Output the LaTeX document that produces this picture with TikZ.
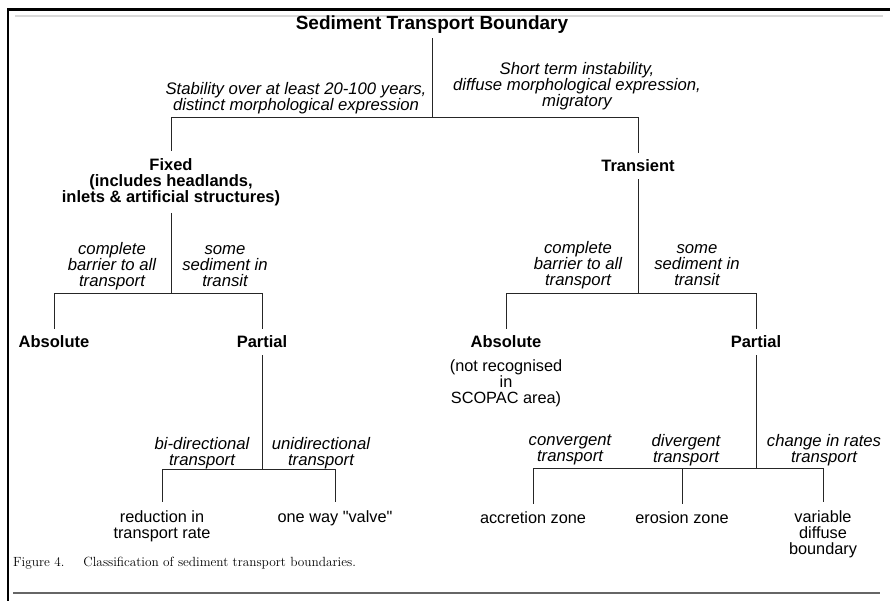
\documentclass[tikz,border=0pt]{standalone}
\usepackage{fontspec}
\newfontfamily\arial{Liberation Sans}
\usetikzlibrary{positioning}
\tikzset{
  titel/.style  = {font=\arial\bfseries\fontsize{19}{21}\selectfont, inner sep=4pt},
  head/.style   = {font=\arial\bfseries\fontsize{16.5}{16}\selectfont, align=center, inner xsep=2pt, inner ysep=7pt},
  cond/.style   = {font=\arial\itshape\fontsize{16.7}{16.2}\selectfont, align=center, inner sep=0},
  leaf/.style   = {font=\arial\fontsize{16.3}{16.2}\selectfont, align=center, inner xsep=2pt, inner ysep=8pt},
  branch/.style = {line width=0.8pt, black!85},
  rule/.style   = {line width=3pt}
}

\begin{document}
\begin{tikzpicture}[x=1pt, y=-1pt]
  \useasboundingbox (0,0) rectangle (890,601);
  % page rules
  \draw[rule] (7,10) -- (890,10);
  \draw[rule, line width=2.5pt] (8,10) -- (8,601);
  \draw[black!15, line width=1.5pt] (15,16) -- (883,16);
  \draw[black!60, line width=1.5pt] (13,593) -- (880,593);

  % top level
  \node[titel] (stb) at (432,25) {Sediment Transport Boundary};
  \node[cond] (cstab) at (296,98) {Stability over at least 20-100 years,\\distinct morphological expression};
  \node[cond] (cshort) at (577,86) {Short term instability,\\diffuse morphological expression,\\migratory};
  \node[head] (fix) at (171,182) {Fixed\\(includes headlands,\\inlets \& artificial structures)};
  \node[head] (trn) at (638,166) {Transient};
  \coordinate (j0) at (432,117);
  \draw[branch] (stb) -- (j0);
  \draw[branch] (j0) -| (fix);
  \draw[branch] (j0) -| (trn);

  % fixed branch
  \node[cond] (cfixa) at (112,266) {complete\\barrier to all\\transport};
  \node[cond] (cfixs) at (225,266) {some\\sediment in\\transit};
  \node[head] (absl) at (54,342) {Absolute};
  \node[head] (parl) at (262,342) {Partial};
  \coordinate (j1) at (171,293);
  \draw[branch] (fix) -- (j1);
  \draw[branch] (j1) -| (absl);
  \draw[branch] (j1) -| (parl);

  \node[cond] (cbi) at (202,453) {bi-directional\\transport};
  \node[cond] (cuni) at (321,453) {unidirectional\\transport};
  \node[leaf] (red) at (162,526) {reduction in\\transport rate};
  \node[leaf] (valve) at (335,518) {one way "valve"};
  \coordinate (j2) at (262,469);
  \draw[branch] (parl) -- (j2);
  \draw[branch] (j2) -| (red);
  \draw[branch] (j2) -| (valve);

  % transient branch
  \node[cond] (ctra) at (578,265) {complete\\barrier to all\\transport};
  \node[cond] (ctrs) at (697,265) {some\\sediment in\\transit};
  \node[head] (absr) at (506,342) {Absolute};
  \node[leaf, inner ysep=0pt, below=4pt of absr] (absn) {(not recognised\\in\\SCOPAC area)};
  \node[head] (parr) at (756,342) {Partial};
  \coordinate (j3) at (638,293);
  \draw[branch] (trn) -- (j3);
  \draw[branch] (j3) -| (absr);
  \draw[branch] (j3) -| (parr);

  \node[cond] (cconv) at (570,450) {convergent\\transport};
  \node[cond] (cdiv) at (686,450) {divergent\\transport};
  \node[cond] (crate) at (824,450) {change in rates\\transport};
  \node[leaf] (acc) at (533,518) {accretion zone};
  \node[leaf] (ero) at (682,518) {erosion zone};
  \node[leaf] (var) at (823,534) {variable\\diffuse\\boundary};
  \coordinate (j4) at (756,468);
  \draw[branch] (parr) -- (j4);
  \draw[branch] (j4) -| (acc);
  \draw[branch] (j4) -| (ero);
  \draw[branch] (j4) -| (var);

  % caption
  \node[anchor=west, inner sep=0, font=\fontsize{13.3}{15}\selectfont] (cap) at (13,563) {Figure 4. \quad Classification of sediment transport boundaries.};
\end{tikzpicture}
\end{document}
